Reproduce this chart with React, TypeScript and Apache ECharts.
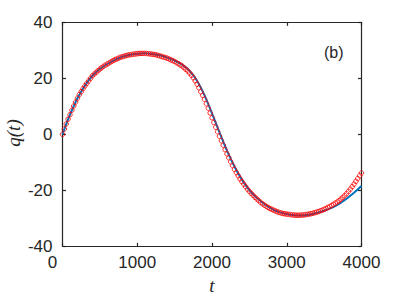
import React, { useEffect, useRef } from 'react';
import * as echarts from 'echarts';

// Blue reference curve (t, q)
const blueT = [0, 100, 200, 300, 400, 500, 600, 700, 800, 900, 1000, 1100, 1200, 1300, 1400, 1500, 1600, 1700, 1800, 1900, 2000, 2100, 2200, 2300, 2400, 2500, 2600, 2700, 2800, 2900, 3000, 3100, 3200, 3300, 3400, 3500, 3600, 3700, 3800, 3900, 4000];
const blueQ = [0, 7.0, 12.9, 17.4, 20.9, 23.3, 25.1, 26.6, 27.7, 28.4, 28.8, 28.95, 28.7, 28.2, 27.4, 26.3, 24.9, 22.7, 19.1, 13.9, 7.5, 0.7, -5.8, -11.5, -16.2, -19.9, -22.7, -24.9, -26.6, -27.8, -28.5, -28.9, -29.0, -28.7, -28.1, -27.3, -26.3, -24.9, -23.0, -20.9, -18.5];

// Red circle markers (t, q)
const redT = [0, 25, 50, 75, 100, 125, 150, 175, 200, 225, 250, 275, 300, 325, 350, 375, 400, 425, 450, 475, 500, 525, 550, 575, 600, 625, 650, 675, 700, 725, 750, 775, 800, 825, 850, 875, 900, 925, 950, 975, 1000, 1025, 1050, 1075, 1100, 1125, 1150, 1175, 1200, 1225, 1250, 1275, 1300, 1325, 1350, 1375, 1400, 1425, 1450, 1475, 1500, 1525, 1550, 1575, 1600, 1625, 1650, 1675, 1700, 1725, 1750, 1775, 1800, 1825, 1850, 1875, 1900, 1925, 1950, 1975, 2000, 2025, 2050, 2075, 2100, 2125, 2150, 2175, 2200, 2225, 2250, 2275, 2300, 2325, 2350, 2375, 2400, 2425, 2450, 2475, 2500, 2525, 2550, 2575, 2600, 2625, 2650, 2675, 2700, 2725, 2750, 2775, 2800, 2825, 2850, 2875, 2900, 2925, 2950, 2975, 3000, 3025, 3050, 3075, 3100, 3125, 3150, 3175, 3200, 3225, 3250, 3275, 3300, 3325, 3350, 3375, 3400, 3425, 3450, 3475, 3500, 3525, 3550, 3575, 3600, 3625, 3650, 3675, 3700, 3725, 3750, 3775, 3800, 3825, 3850, 3875, 3900, 3925, 3950, 3975, 4000];
const redQ = [0.0, 1.9, 3.7, 5.4, 7.0, 8.6, 10.1, 11.5, 12.9, 14.2, 15.2, 16.3, 17.3, 18.2, 19.1, 20.0, 20.9, 21.5, 22.1, 22.7, 23.3, 23.8, 24.3, 24.7, 25.1, 25.5, 25.9, 26.3, 26.6, 26.9, 27.2, 27.5, 27.7, 27.9, 28.1, 28.3, 28.4, 28.5, 28.6, 28.7, 28.8, 28.85, 28.9, 28.9, 28.9, 28.85, 28.8, 28.7, 28.6, 28.5, 28.4, 28.2, 28.0, 27.8, 27.6, 27.4, 27.2, 26.9, 26.6, 26.3, 26.0, 25.6, 25.2, 24.8, 24.4, 23.8, 23.2, 22.6, 21.9, 21.1, 20.2, 19.1, 17.9, 16.6, 15.2, 13.9, 12.5, 10.9, 9.3, 7.6, 5.9, 4.2, 2.5, 0.9, -0.7, -2.3, -3.9, -5.5, -7.0, -8.4, -9.8, -11.2, -12.5, -13.7, -14.8, -15.9, -16.9, -17.8, -18.7, -19.6, -20.4, -21.1, -21.8, -22.5, -23.1, -23.7, -24.3, -24.8, -25.3, -25.7, -26.1, -26.5, -26.8, -27.1, -27.4, -27.7, -27.9, -28.1, -28.3, -28.4, -28.5, -28.6, -28.7, -28.8, -28.85, -28.9, -28.9, -28.9, -28.85, -28.8, -28.7, -28.6, -28.5, -28.35, -28.2, -28.0, -27.8, -27.6, -27.3, -27.1, -26.8, -26.5, -26.1, -25.8, -25.4, -25.0, -24.6, -24.2, -23.7, -23.1, -22.5, -21.9, -21.2, -20.4, -19.6, -18.7, -17.8, -16.8, -15.8, -14.8, -13.8];

const xMin = 0, xMax = 4000, xStep = 1000;
const yMin = -40, yMax = 40, yStep = 20;

const AXIS = '#262626';
const SANS = '"Liberation Sans", Arial, Helvetica, sans-serif';
const SERIF = '"Liberation Serif", "DejaVu Serif", serif';

export default function App() {
  const ref = useRef<HTMLDivElement>(null);
  useEffect(() => {
    if (!ref.current) return;
    const chart = echarts.init(ref.current, undefined, { renderer: 'svg' });
    const axisCommon = {
      type: 'value' as const,
      axisLine: { show: true, onZero: false, lineStyle: { color: AXIS, width: 1.2 } },
      axisTick: { show: true, inside: true, length: 3.5, lineStyle: { color: AXIS, width: 1.2 } },
      splitLine: { show: false },
    };
    chart.setOption({
      animation: false,
      backgroundColor: '#ffffff',
      grid: { left: 62.5, right: 37.5, top: 22.3, bottom: 52.7, containLabel: false, outerBoundsMode: 'none' },
      xAxis: [
        {
          ...axisCommon,
          min: xMin, max: xMax, interval: xStep,
          position: 'bottom',
          name: 't',
          nameLocation: 'middle',
          nameGap: 29,
          nameTextStyle: { fontFamily: SERIF, fontStyle: 'italic', fontSize: 19, color: AXIS },
          axisLabel: {
            show: true, margin: 8, color: AXIS, fontFamily: SANS, fontSize: 17,
            formatter: (v: number) => (v === 0 ? '{z|0}' : String(v)),
            rich: { z: { padding: [0, 20, 0, 0], fontFamily: SANS, fontSize: 17, color: AXIS } },
          },
        },
        {
          ...axisCommon,
          min: xMin, max: xMax, interval: xStep,
          position: 'top',
          axisLabel: { show: false },
        },
      ],
      yAxis: [
        {
          ...axisCommon,
          min: yMin, max: yMax, interval: yStep,
          position: 'left',
          axisLabel: { show: true, margin: 10, color: AXIS, fontFamily: SANS, fontSize: 17 },
        },
        {
          ...axisCommon,
          min: yMin, max: yMax, interval: yStep,
          position: 'right',
          axisLabel: { show: false },
        },
      ],
      series: [
        {
          type: 'line',
          data: blueT.map((t, i) => [t, blueQ[i]]),
          smooth: 0.3,
          showSymbol: false,
          lineStyle: { color: '#0072BD', width: 2 },
          z: 2,
        },
        {
          type: 'scatter',
          data: redT.map((t, i) => [t, redQ[i]]),
          symbol: 'circle',
          symbolSize: 4.5,
          clip: false,
          itemStyle: { color: 'rgba(0,0,0,0)', borderColor: '#ff0000', borderWidth: 1 },
          z: 3,
        },
      ],
      graphic: [
        {
          type: 'text',
          left: 324,
          top: 44,
          style: { text: '(b)', fontFamily: SANS, fontSize: 16, fill: AXIS },
        },
        {
          type: 'text',
          x: 13,
          y: 133,
          rotation: Math.PI / 2,
          style: {
            text: 'q(t)', fontFamily: SERIF, fontStyle: 'italic', fontSize: 19, fill: AXIS,
            align: 'center', verticalAlign: 'middle',
          },
        },
      ],
    });
    return () => chart.dispose();
  }, []);
  return (
    <div
      ref={ref}
      style={{ position: 'fixed', left: 0, top: 0, width: 399, height: 299, background: '#fff' }}
    />
  );
}
